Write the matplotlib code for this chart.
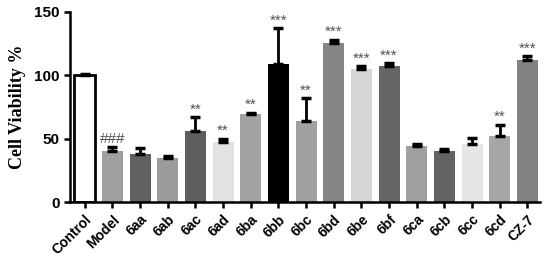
import matplotlib
matplotlib.use("Agg")
import matplotlib.pyplot as plt
import numpy as np

categories = ["Control", "Model", "6aa", "6ab", "6ac", "6ad", "6ba", "6bb", "6bc",
              "6bd", "6be", "6bf", "6ca", "6cb", "6cc", "6cd", "CZ-7"]
values = [100, 40.5, 38, 34.5, 56, 47, 69.5, 109, 64, 125.5, 105, 107, 44.5, 40.5, 46, 52, 112]
errors = [1, 3, 5, 1.5, 11, 3, 1, 28, 18, 2.5, 2, 2.5, 1.5, 1.2, 4.5, 9, 3]
marks = ["", "###", "", "", "**", "**", "**", "***", "**", "***", "***", "***", "", "", "", "**", "***"]
colors = ["#ffffff", "#a0a0a0", "#606060", "#9c9c9c", "#5e5e5e", "#e2e2e2", "#a2a2a2", "#000000",
          "#a0a0a0", "#858585", "#d6d6d6", "#656565", "#a0a0a0", "#636363", "#e6e6e6", "#a6a6a6", "#828282"]

fig = plt.figure(figsize=(5.5, 2.6), dpi=100)
ax = fig.add_axes([0.127, 0.223, 0.855, 0.731])
x = np.arange(len(categories))
edge = ["black" if i == 0 else c for i, c in enumerate(colors)]
lw = [2 if i == 0 else 0 for i in range(len(categories))]
ax.bar(x, values, width=0.76, color=colors, edgecolor=edge, linewidth=lw, zorder=2)
ax.errorbar(x, values, yerr=[np.zeros(len(errors)), errors], fmt="none", ecolor="black",
            elinewidth=2, capsize=3.5, capthick=2.5, zorder=3)
for xi, v, e, m in zip(x, values, errors, marks):
    if m:
        ax.text(xi, v + e + 0.5, m, ha="center", va="bottom", fontsize=11, color="#505050",
                family="Liberation Sans")
ax.set_xlim(-0.54, len(categories) - 0.54)
ax.set_ylim(0, 150)
ax.set_yticks([0, 50, 100, 150])
ax.set_xticks(x)
ax.set_xticklabels(categories, rotation=45, ha="right", rotation_mode="anchor",
                   fontsize=10, fontweight="bold", family="Liberation Sans")
for lab in ax.get_yticklabels():
    lab.set_fontsize(11); lab.set_fontweight("bold"); lab.set_family("Liberation Sans")
ax.set_ylabel("Cell Viability %", fontsize=13, fontweight="bold", family="Liberation Serif",
              labelpad=6)
for s in ["top", "right"]:
    ax.spines[s].set_visible(False)
for s in ["left", "bottom"]:
    ax.spines[s].set_linewidth(1.8)
ax.tick_params(axis="both", width=1.8, length=4)
fig.savefig("out.png", dpi=100)
